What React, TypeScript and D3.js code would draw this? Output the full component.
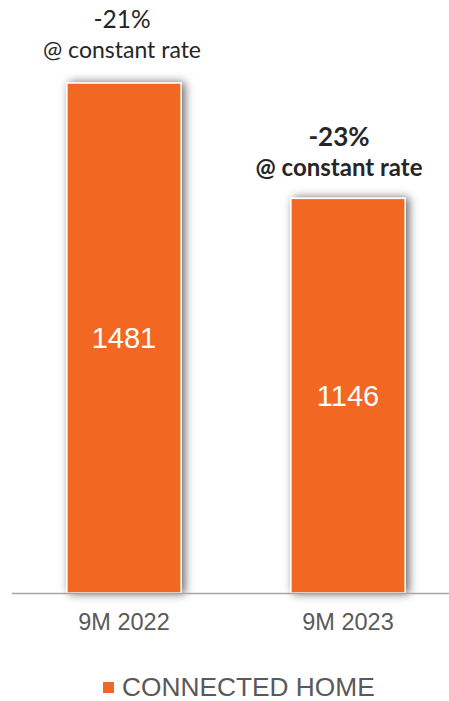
import React from "react";
import * as d3 from "d3";

const categories = ["9M 2022", "9M 2023"];
const values = [1481, 1146];
const changeLabels = ["-21%", "-23%"];
const changeSub = ["@ constant rate", "@ constant rate"];
const changeBold = [false, true];
const seriesName = "CONNECTED HOME";

const W = 449;
const H = 701;
const ORANGE = "#F26722";

export default function App() {
  const x = d3
    .scaleBand<string>()
    .domain(categories)
    .range([12, 460])
    .paddingInner(0.49)
    .paddingOuter(0.245);
  const baseY = 593;
  const y = d3.scaleLinear().domain([0, 1481]).range([baseY, 83]);

  return (
    <svg
      width={W}
      height={H}
      style={{ position: "absolute", left: 0, top: 0, background: "#fff" }}
    >
      <defs>
        <filter id="shadow" x="-30%" y="-10%" width="160%" height="120%">
          <feDropShadow dx="3" dy="0" stdDeviation="5" floodColor="#000" floodOpacity="0.6" />
        </filter>
      </defs>
      {categories.map((c, i) => {
        const bx = x(c)!;
        const bw = x.bandwidth();
        const top = y(values[i]);
        return (
          <g key={c}>
            <rect
              x={bx}
              y={top}
              width={bw}
              height={baseY - top}
              fill={ORANGE}
              stroke="#fff"
              strokeWidth={1.5}
              filter="url(#shadow)"
            />
          </g>
        );
      })}
      <line x1={12} x2={W} y1={baseY + 0.5} y2={baseY + 0.5} stroke="#A6A6A6" strokeWidth={1.5} />
      {categories.map((c, i) => {
        const cx = x(c)! + x.bandwidth() / 2;
        const top = y(values[i]);
        const mid = (top + baseY) / 2;
        const bold = changeBold[i];
        const dx = bold ? -9 : -2;
        return (
          <g key={c + "t"}>
            <text
              x={cx}
              y={mid + 10}
              textAnchor="middle"
              fill="#fff"
              fontFamily="'Liberation Sans', Arial, sans-serif"
              fontSize={29}
            >
              {values[i]}
            </text>
            <text
              x={cx}
              y={630}
              textAnchor="middle"
              fill="#595959"
              fontFamily="'Liberation Sans', Arial, sans-serif"
              fontSize={23.5}
            >
              {c}
            </text>
            <text
              x={cx + dx}
              y={top - (bold ? 52 : 55)}
              textAnchor="middle"
              fill="#262626"
              fontFamily="Lato, sans-serif"
              fontWeight={bold ? 700 : 400}
              fontSize={bold ? 26 : 24.5}
            >
              {changeLabels[i]}
            </text>
            <text
              x={cx + dx}
              y={top - (bold ? 22 : 25)}
              textAnchor="middle"
              fill="#262626"
              fontFamily="Lato, sans-serif"
              fontWeight={bold ? 700 : 400}
              fontSize={bold ? 24 : 23}
            >
              {changeSub[i]}
            </text>
          </g>
        );
      })}
      <rect x={103} y={682} width={11} height={11} fill={ORANGE} />
      <text
        x={122}
        y={696}
        fill="#595959"
        fontFamily="'Liberation Sans', Arial, sans-serif"
        fontSize={26.3}
      >
        {seriesName}
      </text>
    </svg>
  );
}
